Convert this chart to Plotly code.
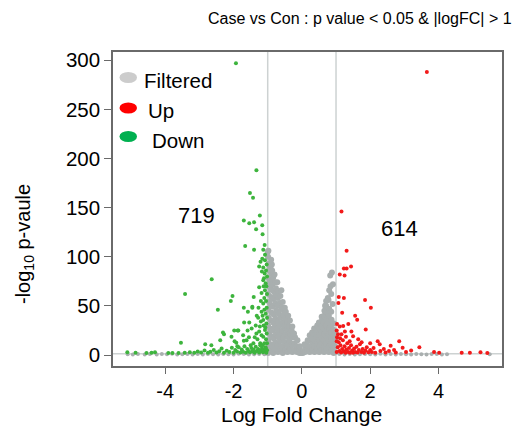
import plotly.graph_objects as go

# ---- Filtered genes: central volcano cloud (|logFC| < 1) ----
filt_lfc = [
    -0.99, -0.97, -0.98, -0.96, -0.99, -0.97, -0.98, -0.96, -0.99, -0.97, -0.98, -0.96, -0.97, -0.99, -0.98,
    -0.91, -0.92, -0.90, -0.93, -0.91, -0.89, -0.92, -0.90, -0.91, -0.93, -0.90, -0.92,
    -0.84, -0.85, -0.83, -0.86, -0.84, -0.82, -0.85, -0.84, -0.83, -0.86, -0.84,
    -0.77, -0.78, -0.76, -0.79, -0.77, -0.75, -0.78, -0.77, -0.76, -0.78,
    -0.70, -0.71, -0.69, -0.72, -0.70, -0.68, -0.71, -0.70, -0.69,
    -0.63, -0.64, -0.62, -0.65, -0.63, -0.61, -0.64, -0.63,
    -0.56, -0.57, -0.55, -0.58, -0.56, -0.54, -0.57, -0.56,
    -0.49, -0.50, -0.48, -0.51, -0.49, -0.47, -0.50,
    -0.42, -0.43, -0.41, -0.44, -0.42, -0.40,
    -0.35, -0.36, -0.34, -0.37, -0.35,
    -0.28, -0.29, -0.27, -0.30, -0.28,
    -0.21, -0.22, -0.20, -0.23,
    -0.14, -0.15, -0.13,
    -0.07, -0.08, -0.06,
    -0.02, -0.03,
    -0.94, -1.00, -0.88, -0.80, -0.90, -0.72, -0.60, -0.95, -0.87,
    0.03, 0.04,
    0.09, 0.10, 0.08,
    0.16, 0.15, 0.17,
    0.23, 0.22, 0.24, 0.23,
    0.30, 0.31, 0.29, 0.30,
    0.37, 0.36, 0.38, 0.37, 0.36,
    0.44, 0.45, 0.43, 0.44, 0.45,
    0.51, 0.52, 0.50, 0.51, 0.52, 0.50,
    0.58, 0.57, 0.59, 0.58, 0.57, 0.59, 0.58,
    0.65, 0.66, 0.64, 0.65, 0.66, 0.64, 0.65, 0.66,
    0.72, 0.71, 0.73, 0.72, 0.71, 0.73, 0.72, 0.71,
    0.79, 0.80, 0.78, 0.79, 0.80, 0.78, 0.79, 0.80, 0.78,
    0.86, 0.85, 0.87, 0.86, 0.85, 0.87, 0.86,
    0.93, 0.92, 0.94, 0.93, 0.92, 0.94,
    0.98, 0.97, 0.99, 0.98,
    0.83, 0.88, 0.80, 0.86, 0.76, 0.71, 0.90, 0.68, 0.91, 0.84,
]
filt_nlp = [
    2, 8, 15, 22, 30, 38, 46, 54, 62, 70, 78, 86, 93, 100, 106,
    4, 11, 19, 27, 35, 43, 51, 59, 67, 75, 83, 89,
    2, 9, 17, 25, 33, 41, 49, 57, 65, 72, 79,
    5, 13, 21, 29, 37, 45, 53, 61, 68, 74,
    3, 10, 18, 26, 34, 42, 50, 58, 65,
    6, 14, 22, 30, 38, 46, 53, 60,
    2, 9, 17, 25, 33, 41, 48, 54,
    5, 13, 21, 29, 37, 44, 48,
    3, 10, 18, 26, 33, 40,
    6, 14, 22, 29, 35,
    3, 10, 18, 25, 29,
    5, 12, 18, 22,
    3, 9, 15,
    2, 6, 9,
    2, 3,
    93, 105, 92, 82, 97, 74, 66, 90, 86,
    2, 4,
    3, 8, 11,
    4, 10, 15,
    3, 9, 15, 20,
    5, 11, 17, 23,
    3, 9, 15, 21, 27,
    6, 12, 18, 24, 30,
    3, 9, 15, 21, 27, 33,
    5, 11, 17, 23, 29, 35, 39,
    3, 9, 15, 21, 27, 33, 40, 45,
    6, 12, 18, 24, 30, 37, 44, 50,
    3, 9, 15, 21, 27, 33, 40, 47, 56,
    5, 11, 17, 23, 29, 36, 44,
    2, 8, 14, 20, 26, 32,
    3, 9, 15, 21,
    81, 84, 66, 62, 58, 55, 52, 50, 72, 70,
]

# ---- Filtered genes: not significant, spread along the bottom ----
base_lfc = [
    -5.10, -4.95, -4.80, -4.60, -4.45, -4.25, -4.10, -3.95, -3.80, -3.65, -3.50, -3.35, -3.20,
    -3.05, -2.90, -2.75, -2.60, -2.45, -2.30, -2.15, -2.00, -1.85, -1.70, -1.55, -1.40, -1.25, -1.10,
    1.10, 1.25, 1.40, 1.55, 1.70, 1.85, 2.00, 2.15, 2.30, 2.45, 2.60, 2.75, 2.90, 3.05, 3.20,
    3.35, 3.50, 3.65, 3.80, 3.95, 4.10, 4.25, 5.50,
]
base_nlp = [
    0.8, 0.5, 1.0, 0.6, 1.1, 0.4, 0.9, 0.7, 1.2, 0.5, 0.8, 1.0, 0.6,
    0.9, 0.4, 1.1, 0.7, 0.5, 1.0, 0.8, 0.6, 1.2, 0.9, 0.5, 0.7, 1.1, 0.8,
    0.9, 0.6, 1.1, 0.5, 0.8, 1.0, 0.7, 0.4, 1.2, 0.6, 0.9, 0.5, 1.0, 0.8, 0.6,
    1.1, 0.7, 0.5, 0.9, 1.0, 0.6, 0.8, 0.7,
]

# ---- Up-regulated genes ----
up_lfc = [
    3.66, 1.16, 1.31, 1.23, 1.31, 1.44, 1.11, 1.25, 1.08, 1.23, 1.07, 1.85, 2.02, 1.18,
    1.56, 1.62, 1.36, 1.87, 1.03, 1.11, 1.21, 1.02, 1.16, 1.29, 1.03, 2.22, 2.28, 2.85,
    2.60, 3.44, 3.87, 4.02, 4.68, 4.92, 5.23, 5.43,
    1.02, 1.05, 1.08, 1.10, 1.13, 1.15, 1.18, 1.20, 1.22, 1.25, 1.28, 1.30, 1.33, 1.36,
    1.38, 1.41, 1.44, 1.47, 1.50, 1.53, 1.56, 1.60, 1.63, 1.67, 1.70, 1.74, 1.78, 1.82,
    1.86, 1.90, 1.95, 2.00, 2.05, 2.10, 2.15, 2.30, 2.40, 2.45, 2.55, 2.70, 2.75, 2.95,
    3.05, 3.20, 1.12, 1.06, 1.40, 1.02, 1.26, 1.50, 1.75, 2.00, 1.65, 1.45,
]
up_nlp = [
    288, 146, 106, 88, 88, 90, 82, 81, 59, 58, 53, 56, 48, 43,
    40, 36, 31.5, 26, 31.5, 29, 29.5, 25, 21, 18.6, 18, 14, 11, 14,
    9.5, 8, 3, 2.3, 2.3, 2.3, 2.7, 2.0,
    3, 8, 13, 4, 10, 2.5, 6, 15, 3.5, 9, 2.2, 5.5, 12, 3,
    7, 2.4, 10, 4.5, 2.2, 6.5, 3, 8.5, 2.5, 5, 11, 3, 6, 2.3,
    4.5, 8, 2.8, 5, 3, 7, 2.4, 4, 6, 2.5, 4, 5, 2.5, 7.5,
    3, 4.5, 17, 21, 14, 14, 24, 19, 13, 12, 16, 24,
]

# ---- Down-regulated genes ----
down_lfc = [
    -1.93, -1.33, -1.52, -1.43, -1.23, -1.70, -1.54, -1.40, -1.16, -1.34, -1.15, -1.66, -1.40,
    -1.09, -1.13, -2.64, -3.42, -2.46, -2.03, -2.08, -1.41, -1.70, -1.58, -1.45, -1.69, -1.98,
    -1.88, -1.59, -2.31, -2.28, -2.39, -3.54, -2.83, -2.65, -1.97, -1.70, -1.47, -1.92, -1.89, -1.62,
    -1.16, -1.21, -1.08, -1.25, -1.13, -1.17, -1.09, -1.25, -1.13, -1.08, -1.18, -1.10, -1.13,
    -1.45, -1.54, -1.18, -1.28, -1.13, -1.23, -1.08, -1.33, -1.13, -1.86, -2.06, -1.72,
    -1.03, -1.05, -1.02, -1.06, -1.04, -1.02, -1.05, -1.03, -1.06, -1.02, -1.04, -1.07, -1.03,
    -1.05, -1.02, -1.06, -1.10, -1.15, -1.20, -1.12, -1.25, -1.18, -1.30, -1.22, -1.15, -1.35,
    -1.38, -1.42, -1.50, -1.55, -1.12, -1.20, -1.27, -1.32, -1.08, -1.11,
    -5.11, -4.87, -4.55, -4.40, -4.30, -3.91, -3.79, -3.61, -3.43, -3.28, -3.15, -3.05, -2.95,
    -2.85, -2.75, -2.68, -2.58, -2.50, -2.42, -2.35, -2.28, -2.20, -2.12, -2.05, -2.00, -1.95,
    -1.90, -1.85, -1.80, -1.76, -1.72, -1.68, -1.64, -1.60, -1.56, -1.52, -1.48, -1.45, -1.42,
    -1.38, -1.35, -1.32, -1.28, -1.25, -1.22, -1.20, -1.17, -1.14, -1.12, -1.10, -1.08, -1.06,
    -1.04, -1.02,
]
down_nlp = [
    297, 188, 165, 160, 142, 137, 134, 135, 132, 128, 123, 111, 107,
    112, 107, 77, 62, 46, 60, 55, 59, 48, 44, 48, 33, 25,
    25, 25, 23, 21, 15, 12.5, 11, 10, 14, 14.5, 27, 12.5, 9, 15,
    98, 95, 96.5, 90, 89, 85, 83, 69, 76, 66, 63, 58, 52.5,
    49, 33, 44, 38, 35.6, 29, 25.4, 22, 18.6, 25, 18.6, 20,
    92, 86, 80, 73, 70, 62, 55, 48, 42, 38, 32, 28, 22,
    16, 12, 8, 46, 40, 34, 30, 24, 20, 16, 12, 10, 30,
    18, 12, 10, 18, 70, 55, 48, 40, 102, 78,
    2.7, 2.3, 2.0, 2.2, 2.8, 2.0, 2.1, 2.0, 2.4, 2.8, 2.2, 3.5, 2.5,
    4.5, 2.2, 3.2, 5, 2.5, 3.8, 6.5, 2.4, 4.2, 3, 7.5, 2.2, 5,
    3.5, 8, 2.5, 5.5, 3.2, 9, 2.2, 6, 4, 2.8, 7, 3.5, 5.5,
    2.2, 8.5, 4, 6, 2.5, 10, 4.5, 7, 2.8, 5.5, 12, 3.5, 6.5,
    2.2, 4.8,
]

x_ticks = [-4, -2, 0, 2, 4]
y_ticks = [0, 50, 100, 150, 200, 250, 300]
legend_labels = ["Filtered", "Up", "Down"]
n_down, n_up = 719, 614

FONT = "Liberation Sans, Arial, sans-serif"
GREY_PT = "#A9AFAF"
RED_PT = "#F21A1A"
GREEN_PT = "#3DB43D"
GUIDE = "#CDD2D2"
FRAME = "#6A6A6A"

fig = go.Figure()
fig.add_trace(go.Scatter(x=base_lfc, y=base_nlp, mode="markers",
                         marker=dict(size=4, color=GREY_PT), hoverinfo="skip"))
fig.add_trace(go.Scatter(x=filt_lfc, y=filt_nlp, mode="markers",
                         marker=dict(size=6, color=GREY_PT), hoverinfo="skip"))
fig.add_trace(go.Scatter(x=up_lfc, y=up_nlp, mode="markers",
                         marker=dict(size=4, color=RED_PT)))
fig.add_trace(go.Scatter(x=down_lfc, y=down_nlp, mode="markers",
                         marker=dict(size=4, color=GREEN_PT)))

# threshold guides: |logFC| = 1 and p = 0.05
for xv in (-1, 1):
    fig.add_shape(type="line", xref="x", yref="paper", x0=xv, x1=xv, y0=0, y1=1,
                  line=dict(color=GUIDE, width=1.5), layer="below")
fig.add_shape(type="line", xref="paper", yref="y", x0=0, x1=1, y0=1.301, y1=1.301,
              line=dict(color=GUIDE, width=1.5), layer="below")

# hand-drawn legend (ellipse keys)
L, T, W, H = 113, 52, 389, 314


def px(xp):
    return (xp - L) / W


def py(yp):
    return (T + H - yp) / H


legend_keys = [("#CCCCCC", 77.5, 142, 80), ("#FF0000", 108, 146, 110.5), ("#00B050", 136.5, 150, 140)]
for label, (col, cy, tx, ty) in zip(legend_labels, legend_keys):
    fig.add_shape(type="circle", xref="paper", yref="paper",
                  x0=px(119.5), x1=px(137), y0=py(cy + 5.5), y1=py(cy - 5.5),
                  fillcolor=col, line=dict(width=0))
    fig.add_annotation(xref="paper", yref="paper", x=px(tx), y=py(ty), text=label,
                       showarrow=False, xanchor="left", yanchor="middle",
                       font=dict(size=20.5, color="#000000", family=FONT))

fig.add_annotation(x=-3.08, y=142, text=str(n_down), showarrow=False,
                   xanchor="center", yanchor="middle",
                   font=dict(size=22, color="#000000", family=FONT))
fig.add_annotation(x=2.87, y=129, text=str(n_up), showarrow=False,
                   xanchor="center", yanchor="middle",
                   font=dict(size=22, color="#000000", family=FONT))

fig.add_annotation(xref="paper", yref="paper", x=px(360), y=py(18),
                   xanchor="center", yanchor="middle",
                   text="Case vs Con : p value < 0.05 & |logFC| > 1", showarrow=False,
                   font=dict(size=16, color="#000000", family=FONT))
fig.add_annotation(xref="paper", yref="paper", x=px(301), y=py(414),
                   xanchor="center", yanchor="middle",
                   text="Log Fold Change", showarrow=False,
                   font=dict(size=21, color="#000000", family=FONT))
fig.add_annotation(xref="paper", yref="paper", x=px(24), y=py(244), textangle=-90,
                   xanchor="center", yanchor="middle",
                   text="-log<sub>10</sub> p-vaule", showarrow=False,
                   font=dict(size=20, color="#000000", family=FONT))

fig.update_xaxes(range=[-5.53, 5.86], tickvals=x_ticks, ticktext=[str(v) for v in x_ticks],
                 showgrid=False, zeroline=False, showline=True, mirror=True,
                 linecolor=FRAME, linewidth=1.5, ticks="outside", ticklen=6,
                 tickcolor=FRAME, tickwidth=1.2,
                 tickfont=dict(size=20, color="#000000", family=FONT))
fig.update_yaxes(range=[-11.2, 308.4], tickvals=y_ticks, ticktext=[str(v) for v in y_ticks],
                 showgrid=False, zeroline=False, showline=True, mirror=True,
                 linecolor=FRAME, linewidth=1.5, ticks="outside", ticklen=7,
                 tickcolor=FRAME, tickwidth=1.2,
                 tickfont=dict(size=20.5, color="#000000", family=FONT))

fig.update_layout(width=515, height=431, showlegend=False,
                  margin=dict(l=L, r=515 - L - W, t=T, b=431 - T - H),
                  paper_bgcolor="white", plot_bgcolor="white")

fig.write_html("out.html")
